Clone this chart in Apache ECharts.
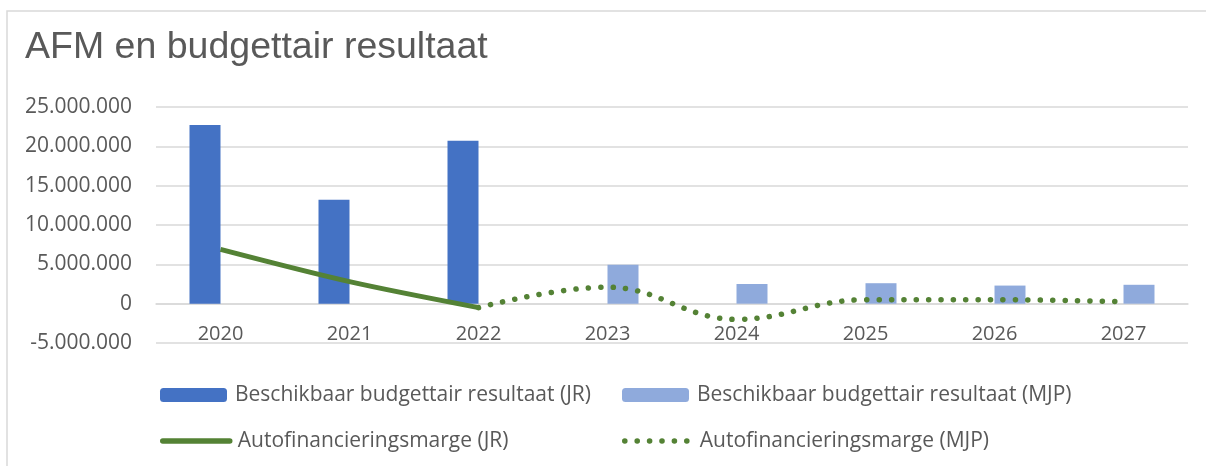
<!DOCTYPE html>
<html>
<head>
<meta charset="UTF-8">
<title>AFM en budgettair resultaat</title>
<script src="https://cdn.jsdelivr.net/npm/echarts@6/dist/echarts.min.js"></script>
<style>
  html, body { margin: 0; padding: 0; background: #fff; }
  #main { width: 1206px; height: 466px; }
</style>
</head>
<body>
<div id="main"></div>
<script type="text/javascript">
// data
var jaren = ['2020', '2021', '2022', '2023', '2024', '2025', '2026', '2027'];
var resultaatJR  = [22700000, 13200000, 20700000, null, null, null, null, null];
var resultaatMJP = [null, null, null, 4950000, 2500000, 2600000, 2300000, 2400000];
var afmJR  = [6900000, 2800000, -500000, null, null, null, null, null];
var afmMJP = [null, null, -500000, 2100000, -2000000, 500000, 500000, 250000];

var namen = [
  'Beschikbaar budgettair resultaat (JR)',
  'Beschikbaar budgettair resultaat (MJP)',
  'Autofinancieringsmarge (JR)',
  'Autofinancieringsmarge (MJP)'
];

var myChart = echarts.init(document.getElementById('main'));

function nlFormat(v) {
  var s = Math.abs(v).toString().replace(/\B(?=(\d{3})+(?!\d))/g, '.');
  return (v < 0 ? '-' : '') + s;
}

var groen = '#548235';
var stippel = [0.1, 12.3];
var tekstFont = '"Open Sans", "Noto Sans", sans-serif';
var legendText = { color: '#595959', fontSize: 21, lineHeight: 24, fontFamily: tekstFont, padding: [0, 0, 0, 3] };

function legendeItem(naam, links, boven, isLijn, lijnType) {
  var l = {
    left: links, top: boven, padding: 0,
    itemWidth: 67, itemHeight: 14, itemGap: 0,
    textStyle: legendText, data: [naam], selectedMode: false
  };
  if (isLijn) {
    l.itemStyle = { opacity: 0 };
    l.lineStyle = { width: 5.5, color: groen, type: lijnType, cap: 'round' };
  }
  return l;
}

var option = {
  backgroundColor: '#fff',
  animation: false,
  graphic: [{
    type: 'rect',
    shape: { x: 7, y: 11, width: 1210, height: 470 },
    style: { fill: 'none', stroke: '#d9d9d9', lineWidth: 1.5 },
    silent: true
  }],
  title: {
    text: 'AFM en budgettair resultaat',
    left: 20, top: 24,
    textStyle: { color: '#595959', fontSize: 37.5, fontWeight: 'normal', fontFamily: '"Liberation Sans", Arial, sans-serif' }
  },
  legend: [
    legendeItem(namen[0], 160, 383, false),
    legendeItem(namen[1], 622, 383, false),
    legendeItem(namen[2], 160, 429, true, 'solid'),
    legendeItem(namen[3], 622, 429, true, stippel)
  ],
  grid: { left: 156, right: 18, top: 107, height: 236, containLabel: false },
  xAxis: {
    type: 'category',
    data: jaren,
    offset: -39.33,
    axisLine: { onZero: false, lineStyle: { color: '#d9d9d9', width: 1.5 } },
    axisTick: { show: false },
    axisLabel: { color: '#595959', fontSize: 20, fontFamily: tekstFont, margin: 21 }
  },
  yAxis: {
    type: 'value',
    min: -5000000, max: 25000000, interval: 5000000,
    axisLine: { show: false },
    axisTick: { show: false },
    splitLine: { lineStyle: { color: '#d9d9d9', width: 1.5 } },
    axisLabel: { color: '#595959', fontSize: 21, fontFamily: tekstFont, margin: 24, formatter: nlFormat }
  },
  series: [
    {
      name: namen[0], type: 'bar', data: resultaatJR,
      barWidth: 31, barGap: '0%',
      itemStyle: { color: '#4472C4' }
    },
    {
      name: namen[1], type: 'bar', data: resultaatMJP,
      barWidth: 31, barGap: '0%',
      itemStyle: { color: '#8FAADC' }
    },
    {
      name: namen[2], type: 'line', data: afmJR,
      smooth: 0.3, symbol: 'none',
      lineStyle: { color: groen, width: 5 },
      itemStyle: { color: groen }
    },
    {
      name: namen[3], type: 'line', data: afmMJP,
      smooth: 0.4, symbol: 'none',
      lineStyle: { color: groen, width: 5.5, type: stippel, cap: 'round' },
      itemStyle: { color: groen }
    }
  ]
};

myChart.setOption(option);
</script>
</body>
</html>
